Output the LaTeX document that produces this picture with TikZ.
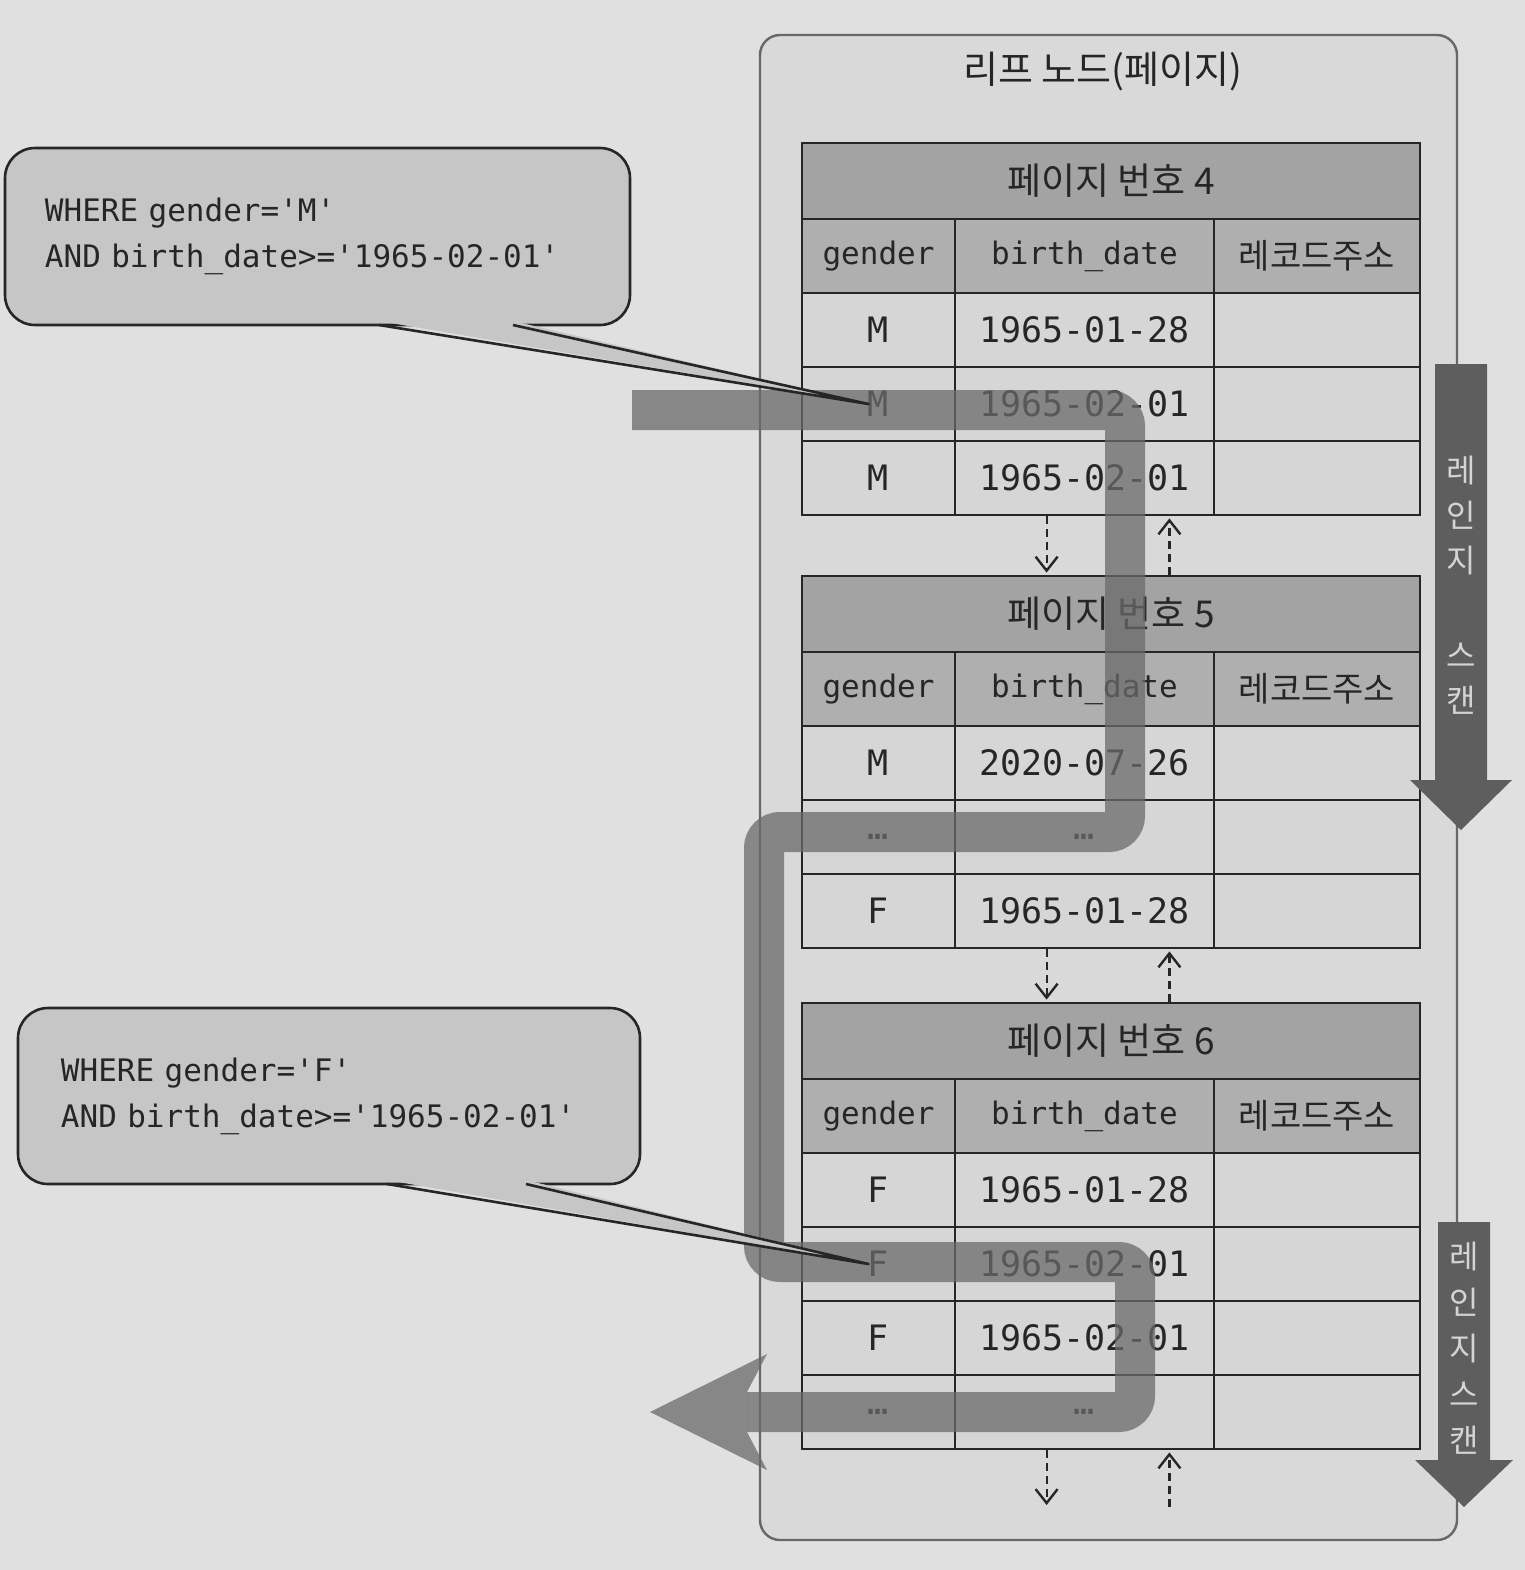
\documentclass[tikz,border=0pt]{standalone}
\usepackage{fontspec}
\setmainfont{DejaVu Sans Mono}[Ligatures=TeXOff]
\newfontfamily\kr{Noto Sans CJK KR}
\usepackage{tikz}
\usetikzlibrary{arrows.meta}
\usetikzlibrary{backgrounds}

\definecolor{paper}{HTML}{E0E0E0}
\definecolor{leaffill}{HTML}{D9D9D9}
\definecolor{headfill}{HTML}{A3A3A3}
\definecolor{colfill}{HTML}{AFAFAF}
\definecolor{cellfill}{HTML}{D6D6D6}
\definecolor{queryfill}{HTML}{C6C6C6}
\definecolor{pathgray}{HTML}{6A6A6A}
\definecolor{scangray}{HTML}{5E5E5E}
\definecolor{scantext}{HTML}{D4D4D4}
\definecolor{ink}{HTML}{262626}

\begin{document}
\begin{tikzpicture}[x=0.5pt, y=-0.5pt, thick, show background rectangle, inner frame sep=0pt,
    background rectangle/.style={fill=paper}]
    \tikzset{leafbox/.style = {draw=ink!70, line width=1.2pt, fill=leaffill, rounded corners=10pt,
        minimum width=348.5pt, minimum height=752.5pt}}
    \tikzset{title/.style = {text=ink, font=\kr\fontsize{19}{22}\selectfont}}
    \tikzset{cell/.style = {draw=ink, line width=1.4pt, fill=cellfill, inner sep=0pt, text=ink,
        minimum height=37pt, font=\fontsize{17.5}{20}\selectfont}}
    \tikzset{pagehead/.style = {cell, fill=headfill, minimum width=309pt, minimum height=38pt,
        font=\kr\fontsize{18.5}{20}\selectfont}}
    \tikzset{colhead/.style = {cell, fill=colfill, font=\fontsize{15.5}{18}\selectfont}}
    \tikzset{addrhead/.style = {colhead, font=\kr\fontsize{17}{18}\selectfont}}
    \tikzset{colg/.style = {minimum width=76.5pt}, cold/.style = {minimum width=129.5pt},
        cola/.style = {minimum width=103pt}}
    \tikzset{link/.style = {->, >={Straight Barb[length=7pt,width=11pt,line width=1.2pt]}, draw=ink,
        line width=1.1pt, dash pattern=on 4pt off 2.5pt, shorten >=1pt}}
    \tikzset{scanpath/.style = {draw=pathgray, line width=20pt, rounded corners=8pt, opacity=0.75}}
    \tikzset{scanhead/.style = {fill=pathgray, opacity=0.75}}
    \tikzset{scanarrow/.style = {fill=scangray}}
    \tikzset{scanlabel/.style = {text=scantext, align=center, inner sep=0pt,
        font=\kr\fontsize{16}{22.5}\selectfont}}
    \tikzset{query/.style = {draw=ink, line width=1.3pt, fill=queryfill, rounded corners=15pt,
        align=left, text width=272.5pt, inner xsep=20pt, minimum height=88.5pt, text=ink,
        font=\fontsize{15.5}{23}\selectfont}}
    \tikzset{tail/.style = {draw=ink, line width=1.3pt, line join=round}}

    \useasboundingbox (0,0) rectangle (1525,1570);

    % leaf page
    \node[leafbox] (leaf) at (1108.5,787.5) {};
    \node[title] (title) at (1103,72) {리프 노드(페이지)};

    % pages
    \foreach \n/\t in {4/143, 5/576, 6/1003} {
      \node[pagehead] (p\n) at (1111,\t+38) {페이지 번호 \n};
      \node[colhead,colg] (p\n-g) at (878.5,\t+113) {gender};
      \node[colhead,cold] (p\n-d) at (1084.5,\t+113) {birth\_date};
      \node[addrhead,cola] (p\n-a) at (1317,\t+113) {레코드주소};
    }

    % records
    \foreach \r/\y/\g/\d in {a/330/M/1965-01-28, b/404/M/1965-02-01, c/478/M/1965-02-01,
        d/763/M/2020-07-26, e/837/…/…, f/911/F/1965-01-28,
        g/1190/F/1965-01-28, h/1264/F/1965-02-01, i/1338/F/1965-02-01, j/1412/…/…} {
      \node[cell,colg] (\r-g) at (878.5,\y) {\g};
      \node[cell,cold] (\r-d) at (1084.5,\y) {\d};
      \node[cell,cola] (\r-a) at (1317,\y) {};
    }

    % page links
    \foreach \lo/\hi in {c/p5, f/p6} {
      \draw[link] ([xshift=46.5pt]\lo-d.south west) -- ([xshift=46.5pt]\lo-d.south west |- \hi.north);
      \draw[link] ([xshift=-23pt]\lo-d.south east |- \hi.north) -- ([xshift=-23pt]\lo-d.south east);
    }
    \coordinate (next) at (1111,1507);
    \draw[link] ([xshift=46.5pt]j-d.south west) -- ([xshift=46.5pt]j-d.south west |- next);
    \draw[link] ([xshift=-23pt]j-d.south east |- next) -- ([xshift=-23pt]j-d.south east);

    % scanned path
    \draw[scanpath] (632,410) -- (1125,410) -- (1125,832) -- (764,832) -- (764,1262)
        -- (1135,1262) -- (1135,1412) -- (747,1412);
    \fill[scanhead] (650,1412) -- (767,1354) -- (747,1392) -- (747,1432) -- (767,1470) -- cycle;

    % range scans
    \fill[scanarrow] (1435,364) -- (1487,364) -- (1487,780) -- (1512,780) -- (1461,830)
        -- (1410,780) -- (1435,780) -- cycle;
    \node[scanlabel] (scan1) at (1461,585) {레\\인\\지\\[25pt]스\\캔};
    \fill[scanarrow] (1438,1222) -- (1490,1222) -- (1490,1460) -- (1513,1460) -- (1464,1507)
        -- (1415,1460) -- (1438,1460) -- cycle;
    \node[scanlabel, font=\kr\fontsize{16}{23}\selectfont] (scan2) at (1464,1348) {레\\인\\지\\스\\캔};

    % queries
    \node[query] (q1) at (317.5,236.5) {WHERE gender='M'\\AND birth\_date>='1965-02-01'};
    \fill[queryfill] (379,321) -- ([xshift=-5pt]b-g.center) -- (513,321) -- cycle;
    \draw[tail] (379,325) -- ([xshift=-5pt]b-g.center) -- (513,325);

    \node[query, text width=268pt, inner xsep=21.5pt, minimum height=88pt] (q2) at (329,1096)
        {WHERE gender='F'\\AND birth\_date>='1965-02-01'};
    \fill[queryfill] (387,1180) -- ([xshift=-5pt]h-g.center) -- (526,1180) -- cycle;
    \draw[tail] (387,1184) -- ([xshift=-5pt]h-g.center) -- (526,1184);
\end{tikzpicture}
\end{document}
